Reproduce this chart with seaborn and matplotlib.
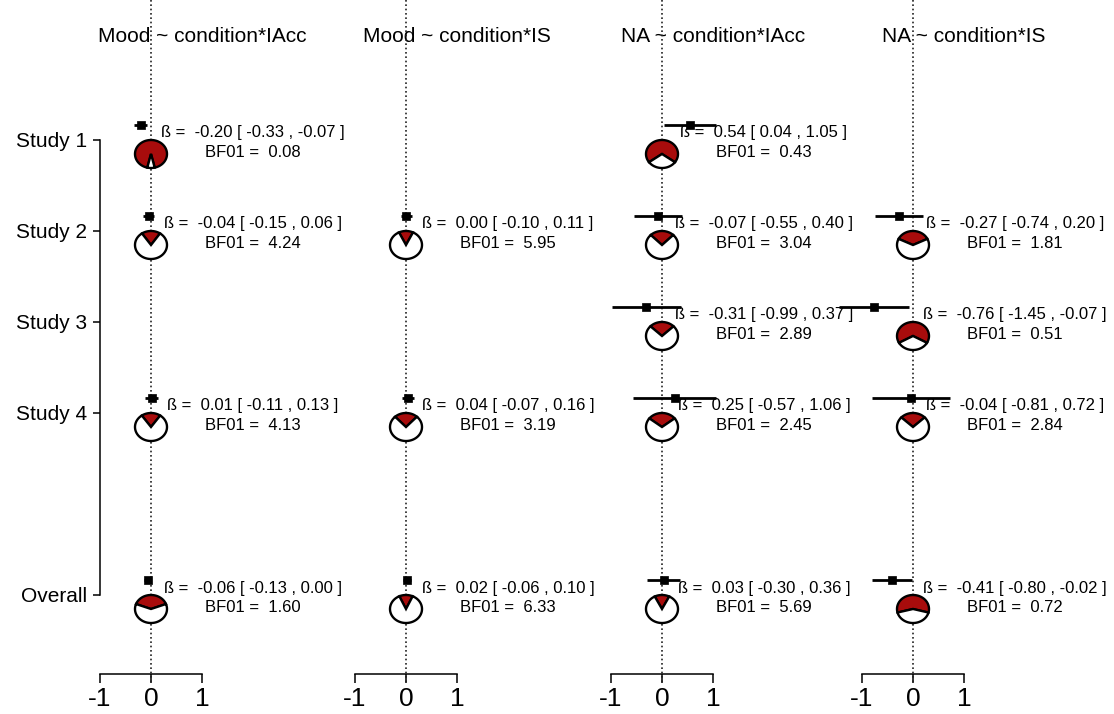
import numpy as np
import pandas as pd
import matplotlib
matplotlib.use("Agg")
import matplotlib.pyplot as plt
from matplotlib.patches import Polygon
import seaborn as sns

sns.set_style("white")
plt.rcParams["font.family"] = ["Liberation Sans", "DejaVu Sans"]
plt.rcParams.update({
    "axes.unicode_minus": False,
    "text.color": "black",
    "axes.labelcolor": "black",
    "axes.edgecolor": "black",
    "xtick.color": "black",
    "ytick.color": "black",
})

# Data
NA = np.nan
MODELS = ["Mood ~ condition*IAcc", "Mood ~ condition*IS",
          "NA ~ condition*IAcc", "NA ~ condition*IS"]
STUDIES = ["Study 1", "Study 2", "Study 3", "Study 4", "Overall"]
ROW_POS = [1, 2, 3, 4, 6]
BETA = [[-0.20, -0.04, NA, 0.01, -0.06],
        [NA, 0.00, NA, 0.04, 0.02],
        [0.54, -0.07, -0.31, 0.25, 0.03],
        [NA, -0.27, -0.76, -0.04, -0.41]]
CI_LO = [[-0.33, -0.15, NA, -0.11, -0.13],
         [NA, -0.10, NA, -0.07, -0.06],
         [0.04, -0.55, -0.99, -0.57, -0.30],
         [NA, -0.74, -1.45, -0.81, -0.80]]
CI_HI = [[-0.07, 0.06, NA, 0.13, 0.00],
         [NA, 0.11, NA, 0.16, 0.10],
         [1.05, 0.40, 0.37, 1.06, 0.36],
         [NA, 0.20, -0.07, 0.72, -0.02]]
BF01 = [[0.08, 4.24, NA, 4.13, 1.60],
        [NA, 5.95, NA, 3.19, 6.33],
        [0.43, 3.04, 2.89, 2.45, 5.69],
        [NA, 1.81, 0.51, 2.84, 0.72]]
XTICKS = [-1, 0, 1]

# Layout (pixels)
W, H = 1114, 714
ZERO_PX = [151, 406, 662, 913]
UNIT_X = 51          # px per beta unit
ROW1_PX, UNIT_Y = 140, 91
AXIS_PX = 674
RED = "#A80C0C"

rows = []
for m, model in enumerate(MODELS):
    for s, study in enumerate(STUDIES):
        if np.isnan(BETA[m][s]):
            continue
        rows.append(dict(model=model, study=study, row=ROW_POS[s],
                         beta=BETA[m][s], lo=CI_LO[m][s], hi=CI_HI[m][s],
                         bf=BF01[m][s]))
df = pd.DataFrame(rows)

px = lambda p: p / UNIT_Y   # vertical pixel offset -> data units
df["y_est"] = df["row"] - px(14.5)
df["y_pie"] = df["row"] + px(14)


def draw_pie(ax, cx, cy, bf, rx, ry):
    p1 = 1 / (1 + bf)  # posterior of H1 -> red, centred at top
    half = np.pi * p1
    t_red = np.linspace(np.pi / 2 - half, np.pi / 2 + half, 120)
    t_white = np.linspace(np.pi / 2 + half, np.pi / 2 + 2 * np.pi - half, 120)
    for t, col in ((t_red, RED), (t_white, "white")):
        xs = np.r_[cx, cx + rx * np.cos(t)]
        ys = np.r_[cy, cy - ry * np.sin(t)]  # y axis is inverted
        ax.add_patch(Polygon(np.c_[xs, ys], closed=True, fc=col, ec="black",
                             lw=1.7, zorder=5, clip_on=False))


fig = plt.figure(figsize=(W / 100, H / 100), dpi=100)
y_top = 1 - ROW1_PX / UNIT_Y
y_bot = 1 + (H - ROW1_PX) / UNIT_Y
axis_row = 1 + (AXIS_PX - ROW1_PX) / UNIT_Y

for m, model in enumerate(MODELS):
    left = ZERO_PX[m] - 1.5 * UNIT_X
    ax = fig.add_axes([left / W, 0, 5 * UNIT_X / W, 1])
    ax.patch.set_visible(False)
    sub = df[df["model"] == model]

    # zero line
    ax.plot([0, 0], [y_top, axis_row + px(9)], color="#222222", lw=1.2,
            ls=(0, (1, 1.6)), zorder=4, clip_on=False)

    ax.hlines(sub["y_est"], sub["lo"], sub["hi"], color="black", lw=2.0,
              zorder=6, clip_on=False)
    sns.scatterplot(data=sub, x="beta", y="y_est", marker="s", color="black",
                    s=34, edgecolor="black", linewidth=0.5, ax=ax, zorder=7,
                    clip_on=False, legend=False)

    for _, r in sub.iterrows():
        draw_pie(ax, 0, r["y_pie"], r["bf"], 16 / UNIT_X, px(14))
        ax.text(2, r["row"] - px(7),
                f"ß =  {r['beta']:.2f} [ {r['lo']:.2f} , {r['hi']:.2f} ]",
                ha="center", va="center", fontsize=12, clip_on=False, zorder=8)
        ax.text(2, r["row"] + px(13), f"BF01 =  {r['bf']:.2f}",
                ha="center", va="center", fontsize=12, clip_on=False, zorder=8)

    ax.set_xlim(-1.5, 3.5)
    ax.set_ylim(y_bot, y_top)
    ax.set_xlabel("")
    ax.set_ylabel("")
    ax.set_title(model, fontsize=15, y=1 - 37 / H, va="center", pad=0)

    for sp in ("top", "right"):
        ax.spines[sp].set_visible(False)
    ax.spines["bottom"].set_position(("data", axis_row))
    ax.spines["bottom"].set_bounds(-1, 1)
    ax.spines["bottom"].set_linewidth(1.1)
    ax.set_xticks(XTICKS)
    ax.tick_params(axis="x", direction="out", length=6.5, width=1.1,
                   labelsize=19, pad=3, bottom=True)

    if m == 0:
        ax.spines["left"].set_position(("data", -1))
        ax.spines["left"].set_bounds(ROW_POS[0], ROW_POS[-1])
        ax.spines["left"].set_linewidth(1.1)
        ax.set_yticks(ROW_POS)
        ax.set_yticklabels(STUDIES)
        ax.tick_params(axis="y", direction="out", length=5, width=1.1,
                       labelsize=15, pad=4, left=True)
    else:
        ax.spines["left"].set_visible(False)
        ax.set_yticks([])

fig.savefig("out.png", dpi=100)
